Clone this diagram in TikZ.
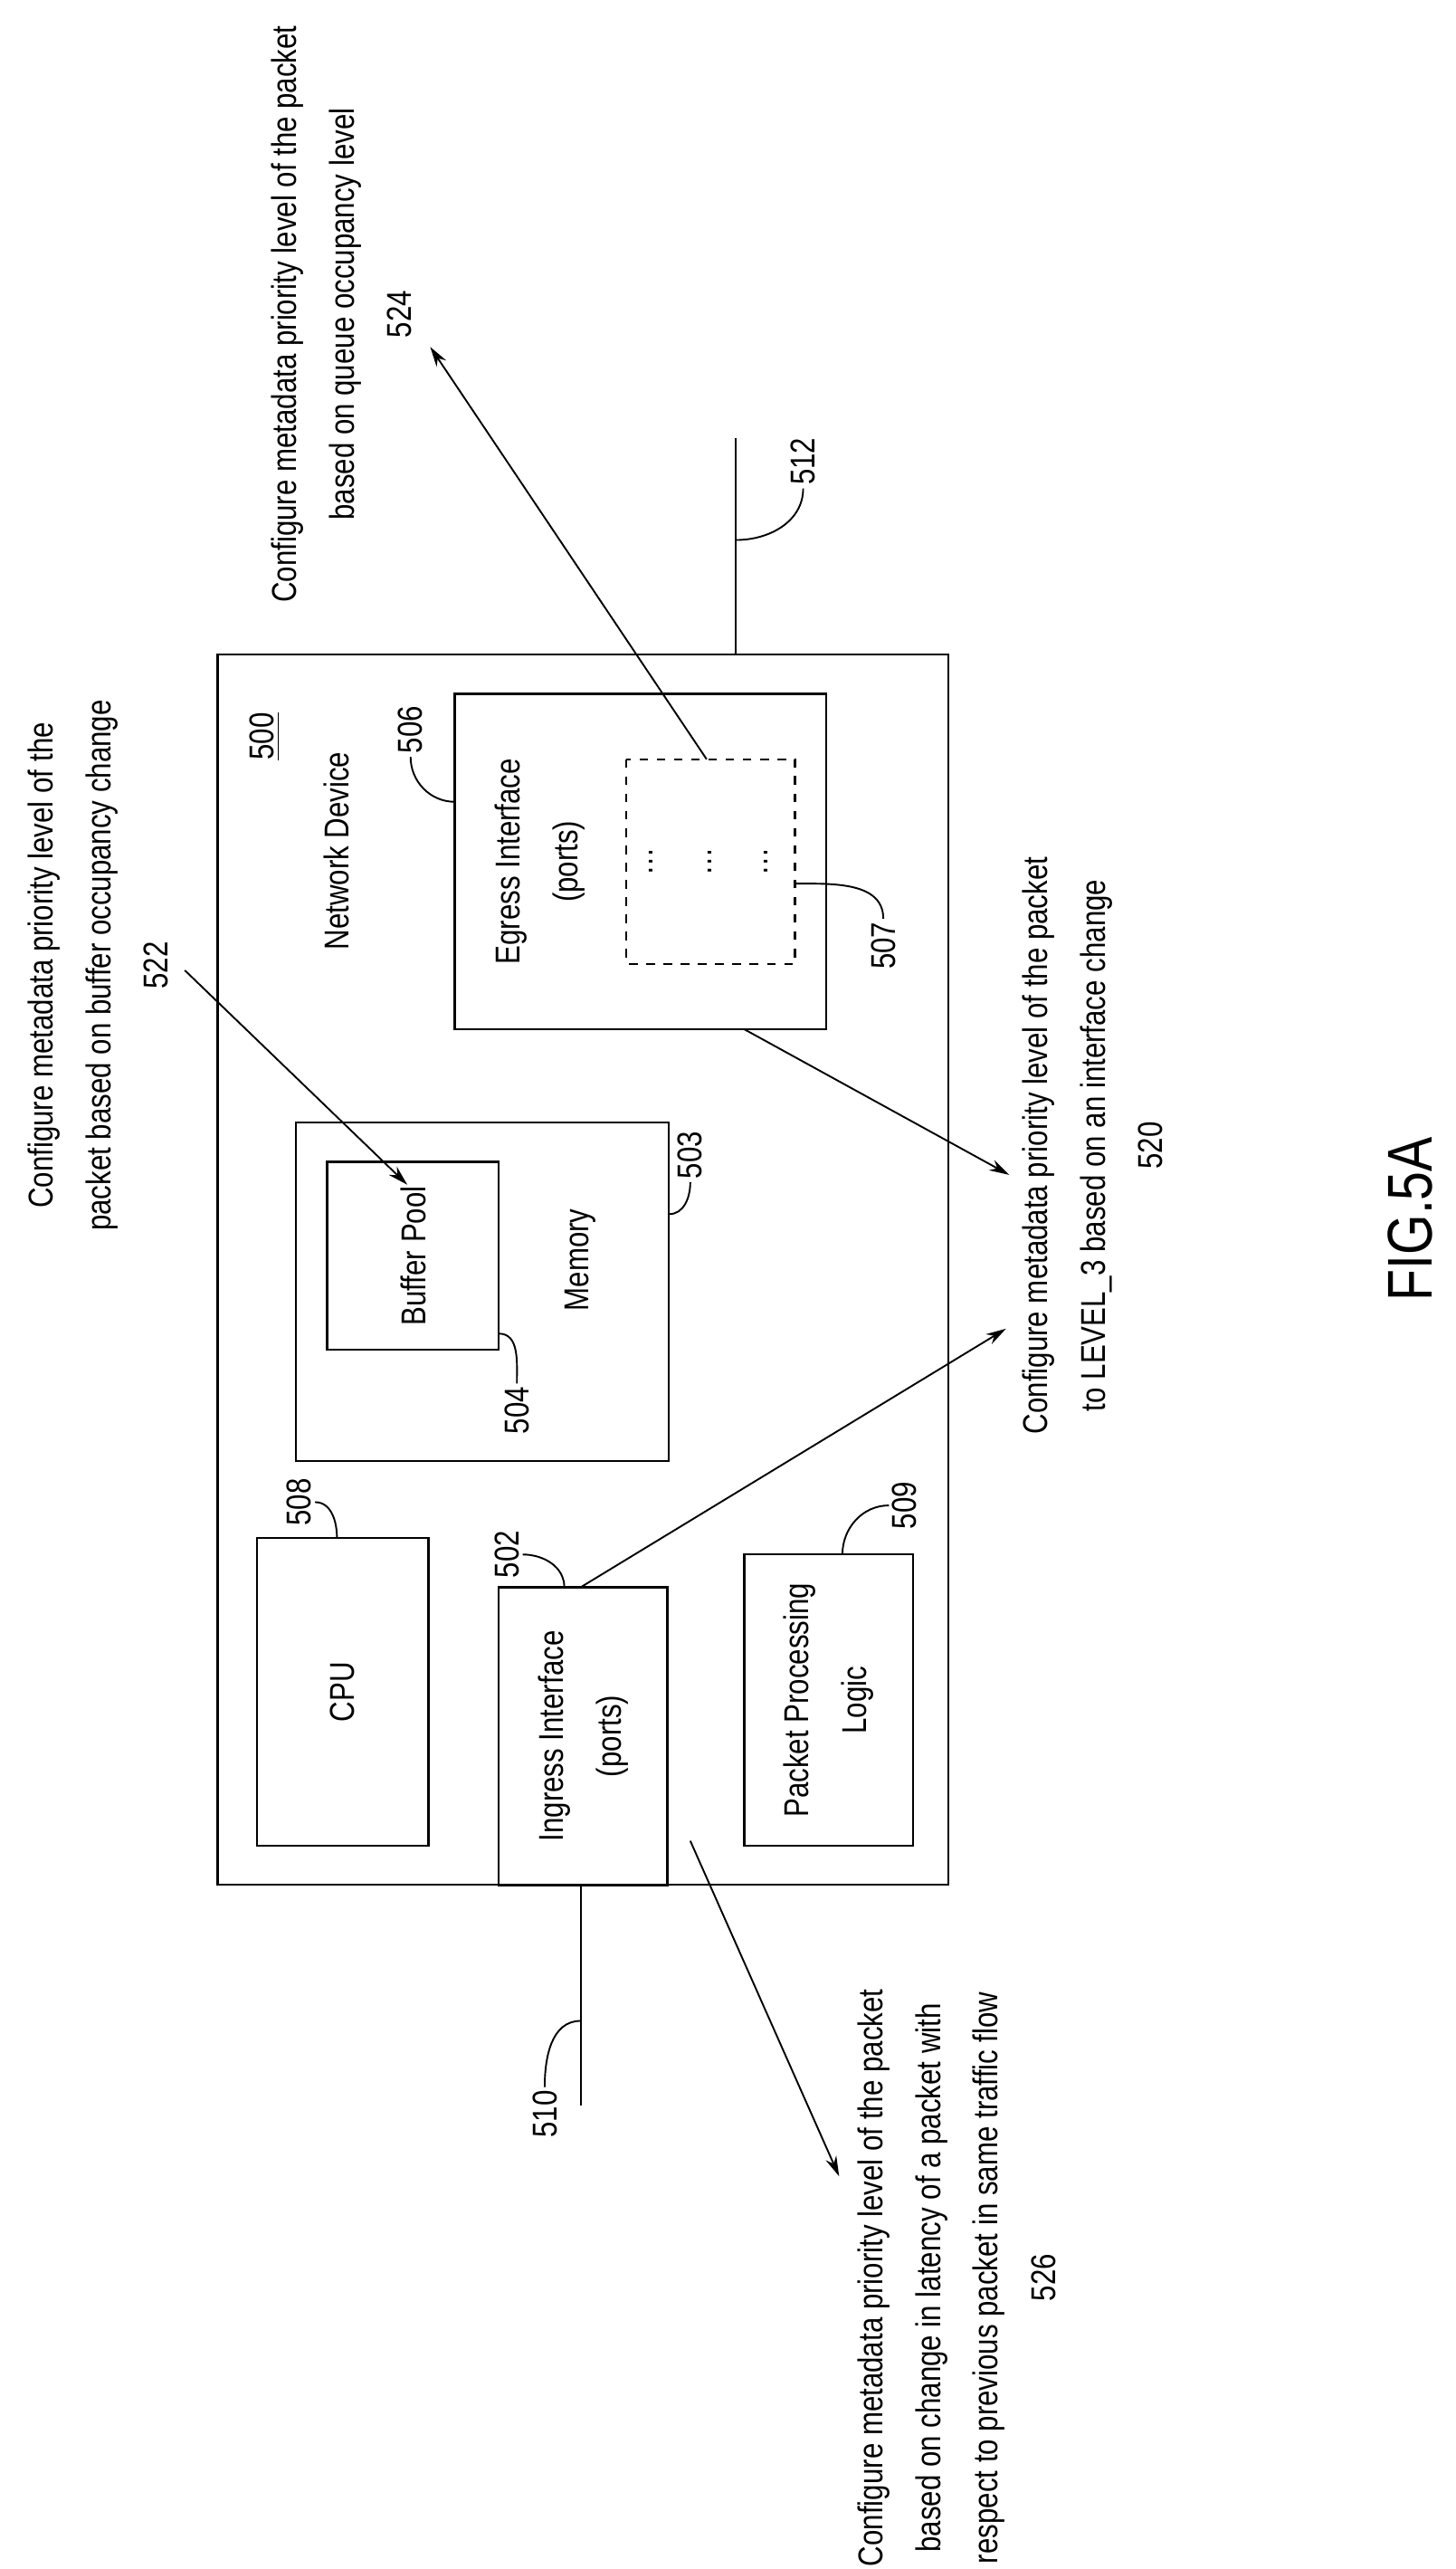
\documentclass[tikz,border=0pt]{standalone}
\usepackage{fontspec}
\setmainfont{Liberation Sans}[FakeStretch=0.82]
\usetikzlibrary{arrows.meta}
\tikzset{
  box/.style={draw,line width=0.7pt,rotate=90,inner sep=0pt,align=center},
  dbox/.style={box,dashed},
  lbl/.style={rotate=90,align=center,inner sep=1pt,font=\fontsize{12}{20}\selectfont},
  num/.style={rotate=90,inner sep=1pt,font=\fontsize{12}{14}\selectfont},
  lead/.style={line width=0.6pt},
  ptr/.style={line width=0.6pt,-{Stealth[length=7pt,width=4pt]}},
}
\begin{document}
\begin{tikzpicture}[x=0.02cm,y=-0.02cm]
\useasboundingbox (0,0) rectangle (890,1570);
%%
  \node (node_device) at (356.5,776) [box,minimum width=15.04cm,minimum height=8.94cm] {};
  \node (node_500) at (162,450) [num] {\underline{500}};
  \node (node_netdev) at (206,520) [lbl] {Network Device};

  \node (node_egress) at (391.5,526.5) [box,minimum width=4.1cm,minimum height=4.54cm] {};
  \node at (330,526.5) [lbl] {Egress Interface\\(ports)};
  \node (node_ports) at (434.5,526.5) [dbox,minimum width=2.5cm,minimum height=2.06cm] {};
  \node at (398,526.5) [num] {\dots};
  \node at (434,526.5) [num] {\dots};
  \node at (468,526.5) [num] {\dots};

  \node (node_memory) at (295,789.5) [box,minimum width=4.14cm,minimum height=4.56cm] {};
  \node at (355,770) [lbl] {Memory};
  \node (node_buffer) at (252.5,767.5) [box,minimum width=2.3cm,minimum height=2.1cm,font=\fontsize{12}{20}\selectfont] {Buffer Pool};

  \node (node_cpu) at (209.5,1034) [box,minimum width=3.76cm,minimum height=2.1cm,font=\fontsize{12}{20}\selectfont] {CPU};
  \node (node_ingress) at (356.5,1061) [box,minimum width=3.64cm,minimum height=2.06cm,font=\fontsize{12}{20}\selectfont] {Ingress Interface\\(ports)};
  \node (node_ppl) at (506.5,1039) [box,minimum width=3.56cm,minimum height=2.06cm,font=\fontsize{12}{20}\selectfont] {Packet Processing\\Logic};

  % reference numerals
  \node (node_506) at (251,446) [num] {506};
  \node (node_507) at (540,578) [num] {507};
  \node (node_503) at (422,706) [num] {503};
  \node (node_504) at (316,862) [num] {504};
  \node (node_508) at (183,918) [num] {508};
  \node (node_502) at (310,950) [num] {502};
  \node (node_509) at (553,920) [num] {509};
  \node (node_512) at (491,282) [num] {512};
  \node (node_510) at (333,1292) [num] {510};

  \coordinate (c_506) at (278,490);
  \coordinate (c_507) at (486,540);
  \coordinate (c_503) at (409,742);
  \coordinate (c_504) at (305,815);
  \coordinate (c_508) at (206,940);
  \coordinate (c_502) at (345,970);
  \coordinate (c_509) at (515,950);
  \coordinate (c_512) at (450,330);
  \coordinate (c_510) at (355,1235);

  \draw [lead] (node_506.west) to[out=-90,in=180] (c_506);
  \draw [lead] (c_507) to[out=0,in=90] (node_507.east);
  \draw [lead] (c_503) to[out=0,in=-90] (node_503.west);
  \draw [lead] (c_504) to[out=0,in=90] (node_504.east);
  \draw [lead] (node_508.south) to[out=0,in=90] (c_508);
  \draw [lead] (node_502.south) to[out=0,in=90] (c_502);
  \draw [lead] (node_509.north) to[out=180,in=90] (c_509);
  \draw [lead] (c_512) to[out=0,in=-90] (node_512.west);
  \draw [lead] (c_510) to[out=180,in=90] (node_510.east);

  % network lines
  \coordinate (c_line512) at (450,268);
  \coordinate (c_dev512) at (450,400);
  \coordinate (c_line510) at (355,1287);
  \coordinate (c_dev510) at (355,1152);
  \draw [lead] (c_line512) -- (c_dev512);
  \draw [lead] (c_dev510) -- (c_line510);

  % configuration notes
  \node (node_522) at (60,590) [lbl] {Configure metadata priority level of the\\packet based on buffer occupancy change\\522};
  \node (node_524) at (209,192) [lbl] {Configure metadata priority level of the packet\\based on queue occupancy level\\524};
  \node (node_520) at (668,700) [lbl] {Configure metadata priority level of the packet\\to LEVEL\_3 based on an interface change\\520};
  \node (node_526) at (585,1392) [lbl] {Configure metadata priority level of the packet\\based on change in latency of a packet with\\respect to previous packet in same traffic flow\\526};
  \node (node_fig) at (862,745) [rotate=90,font=\fontsize{22}{24}\selectfont] {FIG.5A};

  \coordinate (c_s522) at (113,593);
  \coordinate (c_t522) at (249,724);
  \coordinate (c_s524) at (432,464);
  \coordinate (c_t524) at (263,212);
  \coordinate (c_s520a) at (355,970);
  \coordinate (c_s520b) at (455,629);
  \coordinate (c_t520a) at (615,812);
  \coordinate (c_t520b) at (617,718);
  \coordinate (c_s526) at (422,1125);
  \coordinate (c_t526) at (513,1330);

  \draw [ptr] (c_s522) -- (c_t522);
  \draw [ptr] (c_s524) -- (c_t524);
  \draw [ptr] (c_s520a) -- (c_t520a);
  \draw [ptr] (c_s520b) -- (c_t520b);
  \draw [ptr] (c_s526) -- (c_t526);
%
\end{tikzpicture}
\end{document}
